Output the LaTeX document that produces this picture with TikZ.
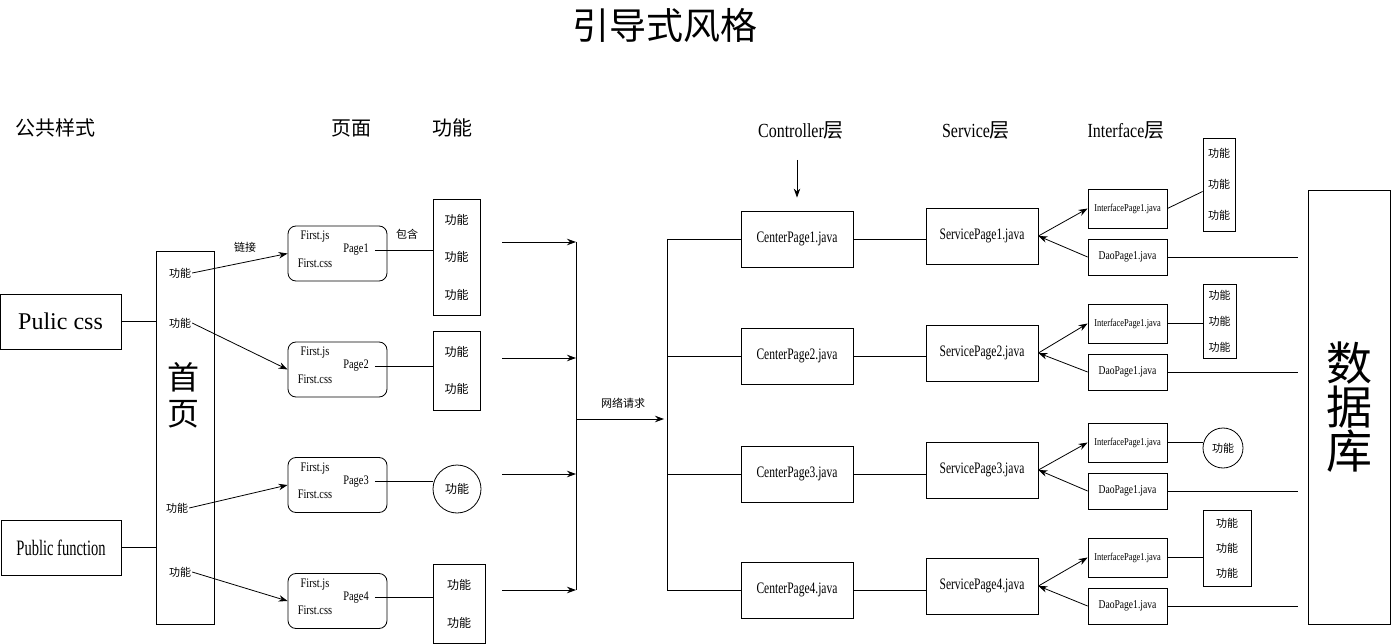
\documentclass[tikz,border=0pt]{standalone}
\usepackage{fontspec}
\setmainfont{Liberation Serif}
\newfontfamily\cjk{Noto Sans CJK SC}
\newfontfamily\narrowfont[FakeStretch=0.8]{Liberation Serif}
\newfontfamily\slimfont[FakeStretch=0.72]{Liberation Serif}
\newfontfamily\tightfont[FakeStretch=0.66]{Liberation Serif}
\usetikzlibrary{arrows.meta,positioning}
\tikzset{
    node distance=2cm, % spacing for the relative placements
    }

\begin{document}
\begin{tikzpicture}[
x=1pt, y=-1pt,
boxnode/.style={draw=black, line width=0.8pt, inner sep=0pt},
pagenode/.style={draw=black, line width=0.8pt, rounded corners=8pt, minimum width=99pt, minimum height=55pt},
pagetext/.style={font=\narrowfont\fontsize{13}{13}\selectfont, inner sep=0pt},
fnnode/.style={font=\cjk\fontsize{11}{11}\selectfont, inner sep=1pt},
headnode/.style={font=\cjk\fontsize{20}{20}\selectfont},
javanode/.style={boxnode, minimum width=112pt, minimum height=56pt, font=\slimfont\fontsize{16}{16}\selectfont},
smallnode/.style={boxnode, minimum width=79pt, font=\narrowfont\fontsize{10.5}{10.5}\selectfont},
link/.style={line width=0.8pt},
arrowlink/.style={line width=0.8pt, -{Stealth[length=9pt,width=6.5pt]}},
]
\useasboundingbox (0,0) rectangle (1392,644);

\node[font=\cjk\fontsize{37}{37}\selectfont] (title) at (665,25) {引导式风格};

% column headers
\node[headnode] (hcommon) at (55,128) {公共样式};
\node[headnode] (hpage) at (351,128) {页面};
\node[headnode] (hfunc) at (452,128) {功能};
\node[headnode] (hctrl) at (801,130) {\narrowfont Controller{\cjk 层}};
\node[headnode] (hserv) at (976,130) {\narrowfont Service{\cjk 层}};
\node[headnode] (hiface) at (1126,130) {\narrowfont Interface{\cjk 层}};

% common part and home page
\node[boxnode, minimum width=121pt, minimum height=55pt, font=\fontsize{24}{24}\selectfont] (css) at (60.5,321.5) {Pulic css};
\node[boxnode, minimum width=120pt, minimum height=55pt, font=\tightfont\fontsize{22}{22}\selectfont] (pubfn) at (61,547.5) {Public function};
\node[boxnode, minimum width=58pt, minimum height=373pt] (home) at (185,437.5) {};
\node[font=\cjk\fontsize{32}{36}\selectfont, align=center] (hometext) at (183,395) {首\\页};
\draw[link] (css.east) -- (css.east -| home.west);
\draw[link] (pubfn.east) -- (pubfn.east -| home.west);

\foreach \i/\x/\y in {1/180/273,2/180/323,3/177/508,4/180/572}
  \node[fnnode] (hf\i) at (\x,\y) {功能};

% pages
\foreach \i/\y in {1/253.5,2/369.5,3/485,4/601}{
  \node[pagenode] (page\i) at (337.5,\y) {};
  \node[pagetext] (pjs\i) at (315,\y-16.5) {First.js};
  \node[pagetext] (pcss\i) at (315,\y+9.5) {First.css};
  \node[pagetext] (pname\i) at (356,\y-3.5) {Page\i};
  \draw[arrowlink] (hf\i.east) -- (page\i.west);
}
\node[fnnode] (linklabel) at (245,247) {链接};
\node[fnnode] (haslabel) at (407,234) {包含};

% page functions
\node[boxnode, minimum width=47pt, minimum height=116pt, align=center, font=\cjk\fontsize{12}{37.5}\selectfont] (fn1) at (456.5,257) {功能\\功能\\功能};
\node[boxnode, minimum width=47pt, minimum height=79pt, align=center, font=\cjk\fontsize{12}{37}\selectfont] (fn2) at (456.5,370.5) {功能\\功能};
\node[boxnode, circle, minimum size=48pt, font=\cjk\fontsize{12}{12}\selectfont] (fn3) at (457,489) {功能};
\node[boxnode, minimum width=52pt, minimum height=79pt, align=center, font=\cjk\fontsize{12}{38}\selectfont] (fn4) at (459,603.5) {功能\\功能};
\foreach \i in {1,...,4}
  \draw[link] ([xshift=6pt]pname\i.east) -- (fn\i.west |- pname\i.east);

% network request bus
\foreach \i/\y in {1/242,2/358,3/474,4/590}{
  \coordinate (busin\i) at (502,\y);
  \coordinate (bus\i) at (576,\y);
  \draw[arrowlink] (busin\i) -- (bus\i);
}
\draw[link] (bus1) -- (bus4);
\coordinate (busmid) at (576,419);
\coordinate (splitmid) at (667,419);
\draw[arrowlink, shorten >=3pt] (busmid) -- (splitmid);
\node[fnnode] (netlabel) at (623,403) {网络请求};

% controller, service, interface, dao
\foreach \i/\yc/\ys/\yi/\yd in {1/239/236/208.5/257, 2/356/353/323.5/372, 3/474/470/442.5/491, 4/590/586/557.5/606}{
  \coordinate (split\i) at (667,\yc);
  \node[javanode] (center\i) at (797,\yc) {CenterPage\i.java};
  \node[javanode] (service\i) at (982,\ys) {ServicePage\i.java};
  \node[smallnode, minimum height=39pt] (iface\i) at (1127.5,\yi) {InterfacePage1.java};
  \node[smallnode, minimum height=36pt, font=\narrowfont\fontsize{12}{12}\selectfont] (dao\i) at (1127.5,\yd) {DaoPage1.java};
  \draw[link] (split\i) -- (center\i.west);
  \draw[link] (center\i.east) -- (center\i.east -| service\i.west);
  \draw[arrowlink] (service\i.east) -- (iface\i.west);
  \draw[arrowlink] (dao\i.west) -- (service\i.east);
}
\draw[link] (split1) -- (split4);
\coordinate (ctrltop) at (797,160);
\draw[arrowlink] (ctrltop) -- ([yshift=13pt]center1.north);

% interface functions
\node[boxnode, minimum width=32pt, minimum height=93pt, align=center, font=\cjk\fontsize{11}{31}\selectfont] (ifn1) at (1219,184.5) {功能\\功能\\功能};
\node[boxnode, minimum width=33pt, minimum height=74pt, align=center, font=\cjk\fontsize{11}{26}\selectfont] (ifn2) at (1219.5,321) {功能\\功能\\功能};
\node[boxnode, circle, minimum size=40pt, font=\cjk\fontsize{11}{11}\selectfont] (ifn3) at (1223,448) {功能};
\node[boxnode, minimum width=48pt, minimum height=76pt, align=center, font=\cjk\fontsize{11}{25}\selectfont] (ifn4) at (1227,548) {功能\\功能\\功能};
\draw[link] (iface1.east) -- ([yshift=-7pt]ifn1.west);
\foreach \i in {2,3,4}
  \draw[link] (iface\i.east) -- (iface\i.east -| ifn\i.west);

% database
\node[boxnode, minimum width=82pt, minimum height=434pt, align=center, font=\cjk\fontsize{46}{44}\selectfont] (db) at (1349,407) {数\\据\\库};
\foreach \i in {1,...,4}
  \draw[link] (dao\i.east) -- ([xshift=-10pt]dao\i.east -| db.west);
\end{tikzpicture}
\end{document}
